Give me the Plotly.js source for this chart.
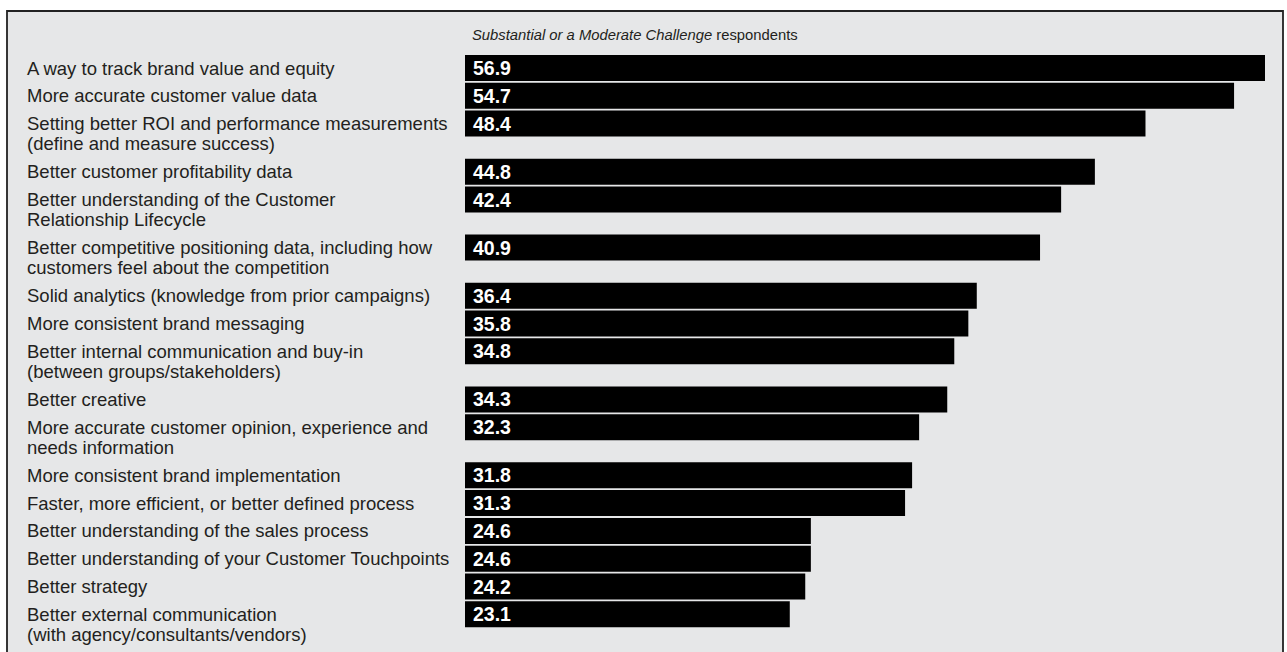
<!DOCTYPE html>
<html>
<head>
<meta charset="utf-8">
<script src="https://cdn.plot.ly/plotly-3.0.1.min.js"></script>
<style>html,body{margin:0;padding:0;background:#fff;}#chart{width:1287px;height:652px;}</style>
</head>
<body>
<div id="chart"></div>
<script>
// ---- data ----
const categories = [
  "A way to track brand value and equity",
  "More accurate customer value data",
  "Setting better ROI and performance measurements<br>(define and measure success)",
  "Better customer profitability data",
  "Better understanding of the Customer<br>Relationship Lifecycle",
  "Better competitive positioning data, including how<br>customers feel about the competition",
  "Solid analytics (knowledge from prior campaigns)",
  "More consistent brand messaging",
  "Better internal communication and buy-in<br>(between groups/stakeholders)",
  "Better creative",
  "More accurate customer opinion, experience and<br>needs information",
  "More consistent brand implementation",
  "Faster, more efficient, or better defined process",
  "Better understanding of the sales process",
  "Better understanding of your Customer Touchpoints",
  "Better strategy",
  "Better external communication<br>(with agency/consultants/vendors)"
];
const values = [56.9, 54.7, 48.4, 44.8, 42.4, 40.9, 36.4, 35.8, 34.8, 34.3, 32.3, 31.8, 31.3, 24.6, 24.6, 24.2, 23.1];
const titleItalic = "Substantial or a Moderate Challenge";
const titleRest = " respondents";

// ---- layout helpers (pixel-like y units) ----
const W = 1287, H = 652;
const mL = 7, mR = 4, mT = 11, mB = 0;
const plotW = W - mL - mR, plotH = H - mT - mB;
const pxPerUnit = 800 / 56.9;
const zeroPx = 465 - mL;
const xRange = [-zeroPx / pxPerUnit, (plotW - zeroPx) / pxPerUnit];

const rowPitch = 27.8, lineExtra = 20.3, lineH = 20;
const lines = categories.map(c => c.split("<br>"));
const pos = [];
let cur = 57;
for (let i = 0; i < categories.length; i++) {
  pos.push(cur);
  cur += rowPitch + lineExtra * (lines[i].length - 1);
}

const FONT = "Liberation Sans, Arial, sans-serif";
const annotations = [];
lines.forEach((ls, i) => {
  ls.forEach((t, k) => {
    annotations.push({
      xref: "paper", yref: "y", x: (25 - mL) / plotW, y: pos[i] + k * lineH,
      xanchor: "left", yanchor: "middle", showarrow: false, text: t,
      font: {family: FONT, size: 18.5, color: "#231f20"}
    });
  });
  annotations.push({
    xref: "x", yref: "y", x: 0, y: pos[i], xshift: 6,
    xanchor: "left", yanchor: "middle", showarrow: false,
    text: values[i].toFixed(1),
    font: {family: FONT, size: 19.5, color: "#ffffff", weight: "bold"}
  });
});
annotations.push({
  xref: "x", yref: "y", x: 0, y: 24, xshift: 5,
  xanchor: "left", yanchor: "middle", showarrow: false,
  text: "<i>" + titleItalic + "</i>" + titleRest,
  font: {family: FONT, size: 14.8, color: "#231f20"}
});

const trace = {
  type: "bar", orientation: "h",
  x: values, y: pos, width: 26,
  marker: {color: "#000000", line: {width: 0}},
  hoverinfo: "skip"
};

const layout = {
  width: W, height: H,
  margin: {l: mL, r: mR, t: mT, b: mB, pad: 0},
  paper_bgcolor: "#ffffff", plot_bgcolor: "#e6e7e8",
  showlegend: false,
  xaxis: {range: xRange, showgrid: false, zeroline: false, showticklabels: false, ticks: "", fixedrange: true},
  yaxis: {range: [plotH, 0], showgrid: false, zeroline: false, showticklabels: false, ticks: "", fixedrange: true},
  annotations: annotations,
  shapes: [{
    type: "rect", xref: "paper", yref: "paper", x0: 0, x1: 1, y0: -0.1, y1: 1,
    line: {color: "#222222", width: 1.8}, fillcolor: "rgba(0,0,0,0)", layer: "above"
  }]
};

Plotly.newPlot("chart", [trace], layout, {displayModeBar: false, staticPlot: true});
</script>
</body>
</html>
